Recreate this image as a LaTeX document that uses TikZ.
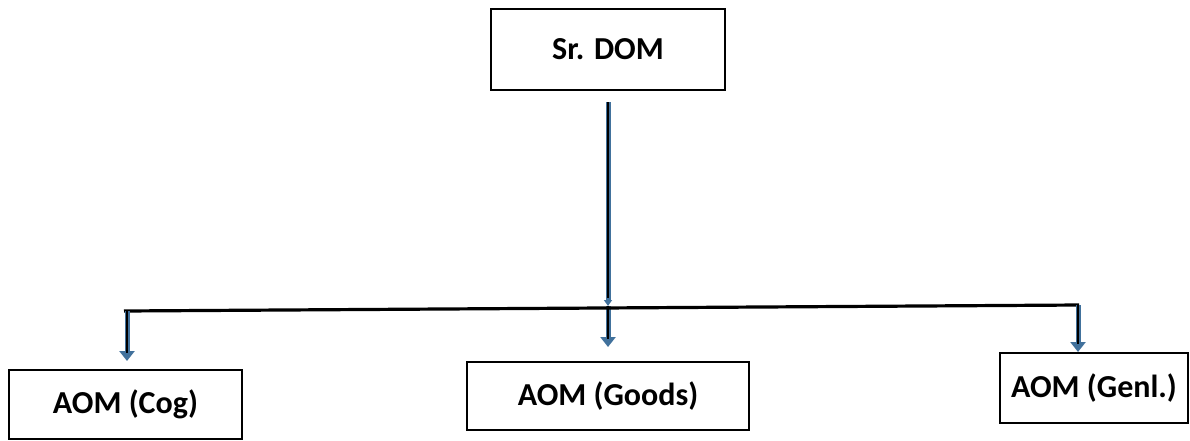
\documentclass[tikz,border=0pt]{standalone}
\usepackage{fontspec}
\setmainfont{Carlito}
\usetikzlibrary{arrows.meta}
\definecolor{arrblue}{HTML}{41719C}
\definecolor{arrdark}{HTML}{203864}
\tikzset{
  box/.style={draw, line width=2pt, inner sep=0pt, font=\fontsize{32}{38}\selectfont\bfseries},
  shaft/.style={line width=5pt, arrblue, -{Triangle[width=15pt,length=10pt]}},
  smallshaft/.style={line width=5pt, arrblue, -{Triangle[width=8pt,length=6pt]}},
  core/.style={line width=2pt, black, shorten >=8pt},
  bar/.style={line width=3.2pt, black},
}
\begin{document}
\begin{tikzpicture}[x=1pt,y=-1pt]
\useasboundingbox (0,0) rectangle (1190,440);
\node[box, minimum width=234pt, minimum height=81pt] (dom) at (608,49.5) {Sr. DOM};
\node[box, minimum width=233pt, minimum height=69pt] (cog) at (125.5,404.5) {AOM (Cog)};
\node[box, minimum width=282pt, minimum height=68pt] (goods) at (608,396) {AOM (Goods)};
\node[box, minimum width=188pt, minimum height=70pt] (genl) at (1094,388) {AOM (Genl.)};
\coordinate (mtop) at (608,102);
\coordinate (mmid) at (608,306);
\coordinate (mbot) at (608,347);
\coordinate (bl) at (124,311);
\coordinate (br) at (1079,305);
\coordinate (lend) at (127,361);
\coordinate (rend) at (1078,352);
% main connector
\draw[smallshaft] (mtop) -- (mmid);
\draw[core] (mtop) -- (mmid);
\draw[shaft] (mmid) -- (mbot);
\draw[core] (mmid) -- (mbot);
% bar
\draw[bar] (bl) -- (br);
% branch arrows
\draw[shaft] (bl -| lend) -- (lend);
\draw[core] (bl -| lend) -- (lend);
\draw[shaft] (br -| rend) -- (rend);
\draw[core] (br -| rend) -- (rend);
\end{tikzpicture}
\end{document}
